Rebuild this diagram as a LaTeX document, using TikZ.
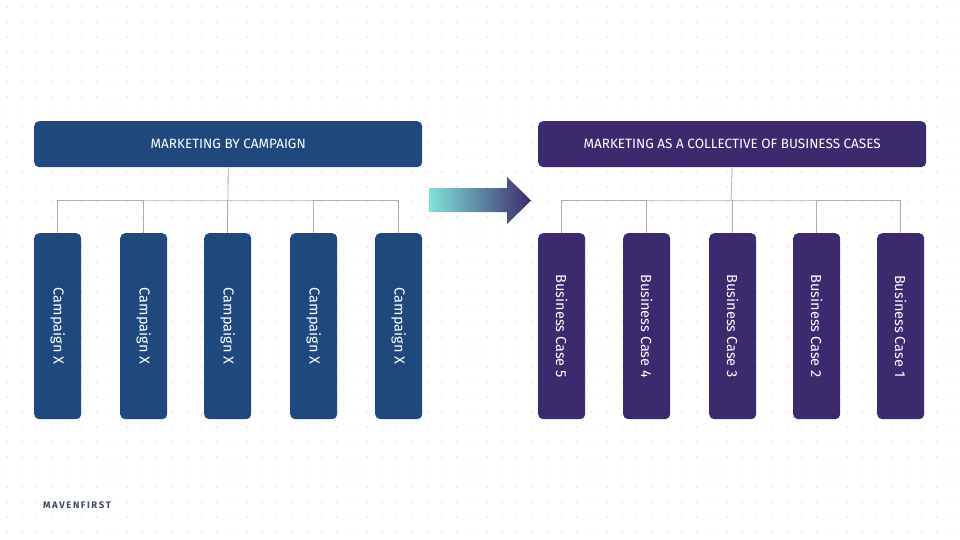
\documentclass[tikz,border=0pt]{standalone}
\usepackage{fontspec}
\setmainfont{Fira Sans}
\usetikzlibrary{shadings}
\definecolor{lblue}{HTML}{1F497D}
\definecolor{rpurp}{HTML}{3B2B6E}
\definecolor{ln}{HTML}{B0B0B0}
\definecolor{dotc}{HTML}{E2E2E6}
\begin{document}
\begin{tikzpicture}[x=1pt,y=-1pt,
  hdr/.style={rounded corners=5pt,minimum height=46pt,minimum width=388pt,text=white,font=\fontsize{13.5}{15}\selectfont,anchor=north west,inner sep=0},
  col/.style={rounded corners=5pt,minimum height=186pt,minimum width=47pt,text=white,font=\fontsize{14.5}{16}\selectfont,anchor=north west,inner sep=0},
  conn/.style={ln,line width=0.8pt}]
\useasboundingbox (0,0) rectangle (960,540);
\fill[white] (0,0) rectangle (960,540);
\foreach \x in {0,...,63} \foreach \y in {0,...,35} \fill[dotc] (7+\x*15,7+\y*15) circle (0.9pt);
% left
\node[hdr,fill=lblue] (L) at (34,121) {MARKETING BY CAMPAIGN};
\foreach \i/\x in {1/34,2/120,3/204,4/290,5/375}
  \node[col,fill=lblue] (L\i) at (\x,233) {\rotatebox{-90}{Campaign X}};
\coordinate (Lj) at (228,200);
\draw[conn] (L.south) -- (Lj);
\draw[conn] (L1.north) |- (Lj) -| (L5.north);
\foreach \i in {2,3,4} \draw[conn] (L\i.north) -- (L\i.north |- Lj);
% right
\node[hdr,fill=rpurp] (R) at (538,121) {MARKETING AS A COLLECTIVE OF BUSINESS CASES};
\foreach \i/\x/\t in {1/538/5,2/623/4,3/709/3,4/793/2,5/877/1}
  \node[col,fill=rpurp] (R\i) at (\x,233) {\rotatebox{-90}{Business Case \t}};
\coordinate (Rj) at (731,200);
\draw[conn] (R.south) -- (Rj);
\draw[conn] (R1.north) |- (Rj) -| (R5.north);
\foreach \i in {2,3,4} \draw[conn] (R\i.north) -- (R\i.north |- Rj);
% arrow
\shade[left color={rgb,255:red,128;green,226;blue,216}, right color=rpurp]
  (429,188) -- (507,188) -- (507,177) -- (531,200.5) -- (507,224) -- (507,212) -- (429,212) -- cycle;
\node[anchor=west,inner sep=0,text={rgb,255:red,60;green,75;blue,90},font=\fontsize{9.5}{11}\selectfont\bfseries] (logo) at (43,505) {M\,A\,V\,E\,N\,F\,I\,R\,S\,T};
\end{tikzpicture}
\end{document}
